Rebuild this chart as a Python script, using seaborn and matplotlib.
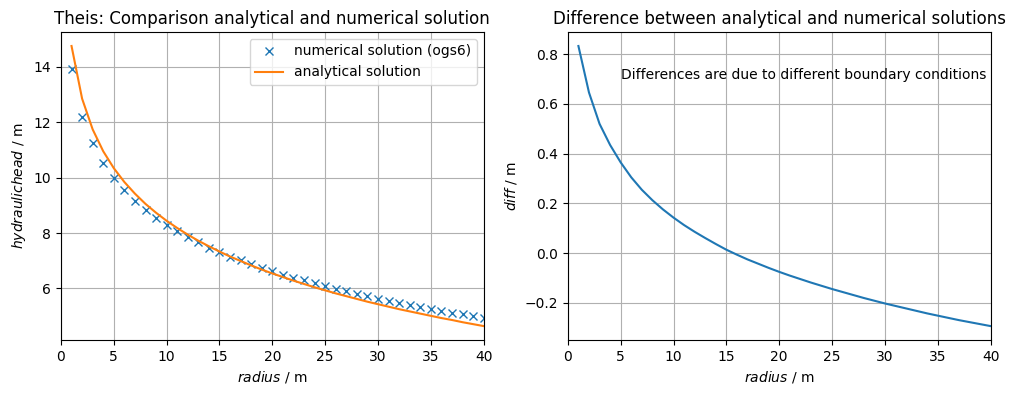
import numpy as np
import pandas as pd
import matplotlib
matplotlib.use("Agg")
import matplotlib.pyplot as plt
import seaborn as sns

radius = list(range(1, 41))

numerical = [13.92, 12.20, 11.24, 10.51, 9.97, 9.54, 9.14, 8.82, 8.55, 8.30,
             8.06, 7.84, 7.66, 7.47, 7.30, 7.14, 7.01, 6.88, 6.73, 6.62,
             6.50, 6.39, 6.29, 6.18, 6.08, 5.97, 5.89, 5.80, 5.71, 5.63,
             5.56, 5.47, 5.40, 5.33, 5.26, 5.19, 5.13, 5.06, 4.99, 4.93]

analytical = [14.75, 12.85, 11.74, 10.95, 10.34, 9.84, 9.42, 9.05, 8.73, 8.44,
              8.18, 7.94, 7.72, 7.52, 7.33, 7.15, 6.99, 6.83, 6.68, 6.54,
              6.41, 6.28, 6.16, 6.04, 5.93, 5.82, 5.72, 5.62, 5.52, 5.43,
              5.34, 5.25, 5.17, 5.09, 5.01, 4.93, 4.86, 4.78, 4.71, 4.64]

diff = [0.833, 0.646, 0.520, 0.435, 0.365, 0.305, 0.255, 0.213, 0.176, 0.143,
        0.113, 0.086, 0.061, 0.037, 0.014, -0.006, -0.025, -0.042, -0.059, -0.075,
        -0.090, -0.104, -0.118, -0.131, -0.144, -0.156, -0.168, -0.180, -0.191, -0.202,
        -0.212, -0.222, -0.232, -0.242, -0.251, -0.260, -0.269, -0.277, -0.285, -0.293]

df = pd.DataFrame({"radius": radius, "numerical": numerical,
                   "analytical": analytical, "diff": diff})

fig, (ax1, ax2) = plt.subplots(1, 2, figsize=(10.16, 3.95), dpi=100)
fig.subplots_adjust(left=0.060, right=0.975, bottom=0.139, top=0.919, wspace=0.199)

sns.lineplot(data=df, x="radius", y="numerical", ax=ax1, marker="x", linestyle="none",
             color="#1f77b4", markeredgecolor="#1f77b4", markeredgewidth=1.0,
             markersize=6, label="numerical solution (ogs6)")
sns.lineplot(data=df, x="radius", y="analytical", ax=ax1, color="#ff7f0e",
             linewidth=1.5, label="analytical solution")
ax1.set_xlim(0, 40)
ax1.set_xlabel("$radius$ / m")
ax1.set_ylabel("$hydraulic head$ / m")
ax1.set_title("Theis: Comparison analytical and numerical solution")
ax1.grid(True)
ax1.legend(loc="upper right")

sns.lineplot(data=df, x="radius", y="diff", ax=ax2, color="#1f77b4", linewidth=1.5)
ax2.set_xlim(0, 40)
ax2.set_xlabel("$radius$ / m")
ax2.set_ylabel("$diff$ / m")
ax2.set_title("Difference between analytical and numerical solutions")
ax2.grid(True)
ax2.text(5, 0.7, "Differences are due to different boundary conditions")

fig.savefig("out.png", dpi=100)
